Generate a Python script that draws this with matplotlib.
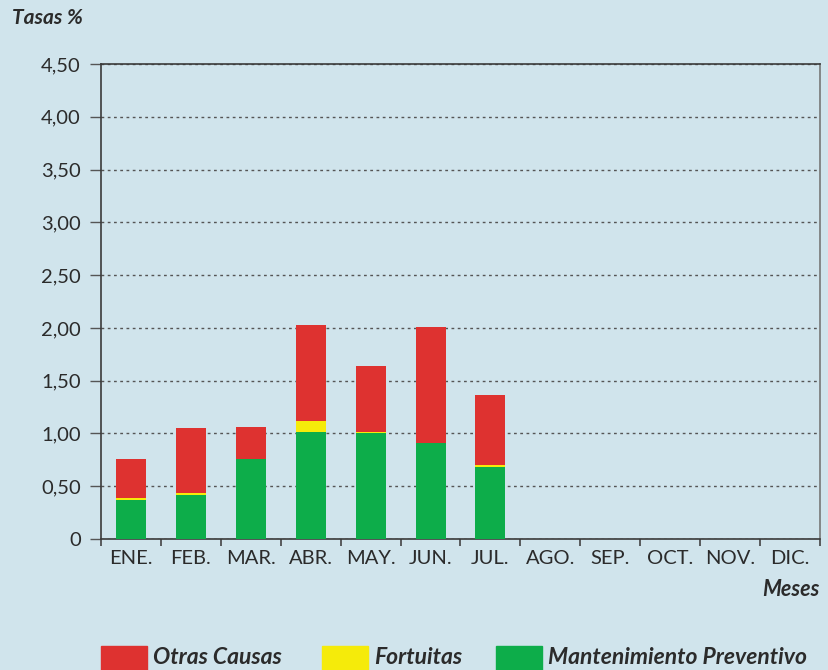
import matplotlib
matplotlib.use("Agg")
import matplotlib.pyplot as plt
import numpy as np
from matplotlib.patches import Rectangle

# datos (tasas %)
meses = ["ENE.", "FEB.", "MAR.", "ABR.", "MAY.", "JUN.", "JUL.",
         "AGO.", "SEP.", "OCT.", "NOV.", "DIC."]
mant_preventivo = [0.37, 0.42, 0.76, 1.01, 1.00, 0.91, 0.68, 0, 0, 0, 0, 0]
fortuitas = [0.02, 0.015, 0.0, 0.11, 0.01, 0.0, 0.025, 0, 0, 0, 0, 0]
otras_causas = [0.37, 0.62, 0.30, 0.91, 0.63, 1.10, 0.66, 0, 0, 0, 0, 0]
yticks = [0, 0.5, 1.0, 1.5, 2.0, 2.5, 3.0, 3.5, 4.0, 4.5]
ytick_labels = ["0", "0,50", "1,00", "1,50", "2,00", "2,50", "3,00",
                "3,50", "4,00", "4,50"]

bg = "#d0e4ec"
c_rojo = "#de3230"
c_amarillo = "#f5eb0a"
c_verde = "#0dad4a"
oscuro = "#2b2b2b"

plt.rcParams["font.family"] = ["Lato", "DejaVu Sans"]

fig = plt.figure(figsize=(8.29, 6.70), dpi=100, facecolor=bg)
ax = fig.add_axes([101 / 829, 1 - 539 / 670, 719 / 829, 475 / 670])
ax.set_facecolor(bg)

x = np.arange(len(meses))
mp = np.array(mant_preventivo)
fo = np.array(fortuitas)
oc = np.array(otras_causas)
ax.bar(x, mp, width=0.5, color=c_verde, zorder=3)
ax.bar(x, fo, width=0.5, bottom=mp, color=c_amarillo, zorder=3)
ax.bar(x, oc, width=0.5, bottom=mp + fo, color=c_rojo, zorder=3)

ax.set_xlim(-0.5, len(meses) - 0.5)
ax.set_ylim(0, 4.5)

ax.set_yticks(yticks)
ax.set_yticklabels(ytick_labels)
ax.yaxis.grid(True, linestyle=(0, (2, 2.5)), color="#555555", linewidth=1.0, zorder=0)
ax.tick_params(axis="y", length=8, width=1.0, color="#555555", pad=6.5,
               labelsize=14.5, labelcolor=oscuro)

ax.set_xticks(x)
ax.set_xticklabels(meses)
ax.set_xticks(np.arange(len(meses) + 1) - 0.5, minor=True)
ax.tick_params(axis="x", which="major", length=0, pad=8, labelsize=14.5,
               labelcolor=oscuro)
ax.tick_params(axis="x", which="minor", length=5, width=1.2, color="#444444")

for s in ax.spines.values():
    s.set_color("#3a3a3a")
    s.set_linewidth(1.2)
ax.spines["right"].set_color("#777777")

fig.text(12 / 829, 1 - 18 / 670, "Tasas %", fontsize=15, fontweight="bold",
         fontstyle="italic", color=oscuro, va="center", ha="left")
fig.text(820 / 829, 1 - 590 / 670, "Meses", fontsize=15.5, fontweight="bold",
         fontstyle="italic", color=oscuro, va="center", ha="right")

# leyenda
leyenda = [(101, c_rojo, "Otras Causas"), (322, c_amarillo, "Fortuitas"),
           (496, c_verde, "Mantenimiento Preventivo")]
for px, col, txt in leyenda:
    fig.add_artist(Rectangle((px / 829, 0), 46 / 829, 24 / 670,
                             transform=fig.transFigure, color=col))
    fig.text((px + 52) / 829, 1 - 658 / 670, txt, fontsize=16.5,
             fontweight="bold", fontstyle="italic", color=oscuro,
             va="center", ha="left")

fig.savefig("out.png", dpi=100, facecolor=bg)
